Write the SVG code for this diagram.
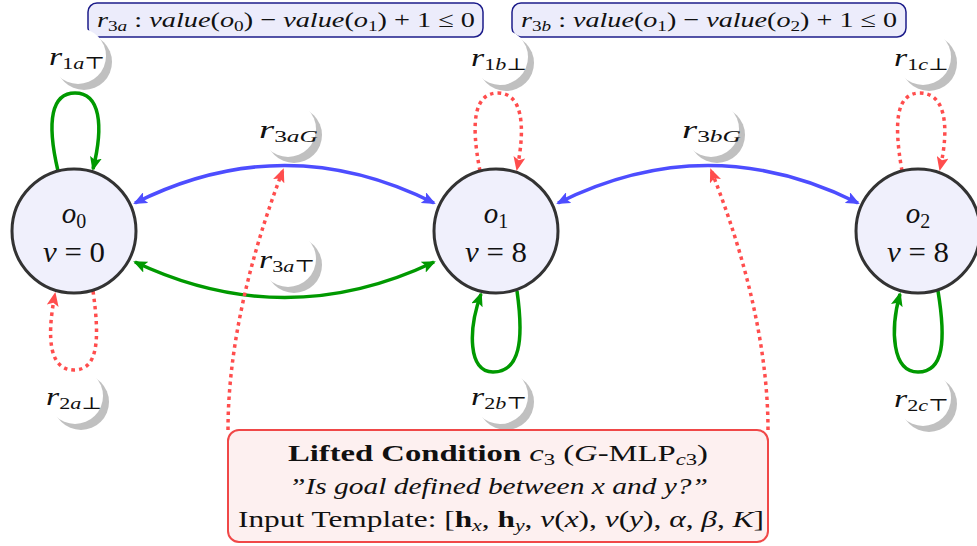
<svg xmlns="http://www.w3.org/2000/svg" width="977" height="546" viewBox="0 0 977 546">
<style>
text{font-family:"Liberation Serif","DejaVu Serif",serif;fill:#111}
.i{font-style:italic}
.b{font-weight:bold}
.node{fill:#f0f0fc;stroke:#333;stroke-width:3}
.hdr{fill:#ececfb;stroke:#1c1c8a;stroke-width:1.5}
.cond{fill:#fdf0f0;stroke:#f04848;stroke-width:2}
.sh{fill:#c0c0c0}
.wh{fill:#fff}
.e{fill:none;stroke-width:3.5}
.g{stroke:#009900}
.bl{stroke:#4d4dff}
.r{stroke:#ff4d4d;stroke-dasharray:3.5 4}
.lbl{font-size:26px}
</style>
<defs>
<marker id="ag" viewBox="0 0 14 12" refX="12" refY="6" markerWidth="14" markerHeight="12" markerUnits="userSpaceOnUse" orient="auto-start-reverse"><path d="M0,0 L14,6 L0,12 L3,6 z" fill="#009900"/></marker>
<marker id="ab" viewBox="0 0 14 12" refX="12" refY="6" markerWidth="14" markerHeight="12" markerUnits="userSpaceOnUse" orient="auto-start-reverse"><path d="M0,0 L14,6 L0,12 L3,6 z" fill="#4d4dff"/></marker>
<marker id="ar" viewBox="0 0 14 12" refX="12" refY="6" markerWidth="14" markerHeight="12" markerUnits="userSpaceOnUse" orient="auto-start-reverse"><path d="M0,0 L14,6 L0,12 L3,6 z" fill="#ff4d4d"/></marker>
</defs>

<g id="hdr-r3a">
<rect class="hdr" x="88" y="3" width="395" height="34" rx="9"/>
<text x="97" y="27" font-size="22" textLength="378" lengthAdjust="spacingAndGlyphs"><tspan class="i">r</tspan><tspan font-size="15" dy="4">3<tspan class="i">a</tspan></tspan><tspan dy="-4"> : </tspan><tspan class="i">value</tspan>(<tspan class="i">o</tspan><tspan font-size="15" dy="4">0</tspan><tspan dy="-4">) − </tspan><tspan class="i">value</tspan>(<tspan class="i">o</tspan><tspan font-size="15" dy="4">1</tspan><tspan dy="-4">) + 1 ≤ 0</tspan></text>
</g>
<g id="hdr-r3b">
<rect class="hdr" x="512" y="3" width="394" height="34" rx="9"/>
<text x="521" y="27" font-size="22" textLength="376" lengthAdjust="spacingAndGlyphs"><tspan class="i">r</tspan><tspan font-size="15" dy="4">3<tspan class="i">b</tspan></tspan><tspan dy="-4"> : </tspan><tspan class="i">value</tspan>(<tspan class="i">o</tspan><tspan font-size="15" dy="4">1</tspan><tspan dy="-4">) − </tspan><tspan class="i">value</tspan>(<tspan class="i">o</tspan><tspan font-size="15" dy="4">2</tspan><tspan dy="-4">) + 1 ≤ 0</tspan></text>
</g>

<g id="labels">
<g id="l-r1a"><circle class="sh" cx="84" cy="62" r="28"/><circle class="wh" cx="78" cy="56" r="28"/><text class="lbl" x="49" y="65" textLength="56" lengthAdjust="spacingAndGlyphs"><tspan class="i">r</tspan><tspan font-size="17" dy="4">1<tspan class="i">a</tspan>⊤</tspan></text></g>
<g id="l-r2a"><circle class="sh" cx="81" cy="402" r="28"/><circle class="wh" cx="75" cy="396" r="28"/><text class="lbl" x="46" y="405" textLength="56" lengthAdjust="spacingAndGlyphs"><tspan class="i">r</tspan><tspan font-size="17" dy="4">2<tspan class="i">a</tspan>⊥</tspan></text></g>
<g id="l-r1b"><circle class="sh" cx="506" cy="63" r="28"/><circle class="wh" cx="500" cy="57" r="28"/><text class="lbl" x="471" y="66" textLength="56" lengthAdjust="spacingAndGlyphs"><tspan class="i">r</tspan><tspan font-size="17" dy="4">1<tspan class="i">b</tspan>⊥</tspan></text></g>
<g id="l-r2b"><circle class="sh" cx="506" cy="402" r="28"/><circle class="wh" cx="500" cy="396" r="28"/><text class="lbl" x="471" y="405" textLength="56" lengthAdjust="spacingAndGlyphs"><tspan class="i">r</tspan><tspan font-size="17" dy="4">2<tspan class="i">b</tspan>⊤</tspan></text></g>
<g id="l-r1c"><circle class="sh" cx="929" cy="63" r="28"/><circle class="wh" cx="923" cy="57" r="28"/><text class="lbl" x="894" y="66" textLength="55" lengthAdjust="spacingAndGlyphs"><tspan class="i">r</tspan><tspan font-size="17" dy="4">1<tspan class="i">c</tspan>⊥</tspan></text></g>
<g id="l-r2c"><circle class="sh" cx="929" cy="404" r="28"/><circle class="wh" cx="923" cy="398" r="28"/><text class="lbl" x="894" y="407" textLength="55" lengthAdjust="spacingAndGlyphs"><tspan class="i">r</tspan><tspan font-size="17" dy="4">2<tspan class="i">c</tspan>⊤</tspan></text></g>
<g id="l-r3aG"><circle class="sh" cx="294" cy="135" r="28"/><circle class="wh" cx="288" cy="129" r="28"/><text class="lbl" x="259" y="138" textLength="59" lengthAdjust="spacingAndGlyphs"><tspan class="i">r</tspan><tspan font-size="17" dy="4">3<tspan class="i">aG</tspan></tspan></text></g>
<g id="l-r3aT"><circle class="sh" cx="294" cy="265" r="28"/><circle class="wh" cx="288" cy="259" r="28"/><text class="lbl" x="259" y="268" textLength="56" lengthAdjust="spacingAndGlyphs"><tspan class="i">r</tspan><tspan font-size="17" dy="4">3<tspan class="i">a</tspan>⊤</tspan></text></g>
<g id="l-r3bG"><circle class="sh" cx="717" cy="135" r="28"/><circle class="wh" cx="711" cy="129" r="28"/><text class="lbl" x="682" y="138" textLength="59" lengthAdjust="spacingAndGlyphs"><tspan class="i">r</tspan><tspan font-size="17" dy="4">3<tspan class="i">bG</tspan></tspan></text></g>
</g>

<g id="connectors">
<path class="e bl" d="M135,203 Q285,128 434,203" marker-start="url(#ab)" marker-end="url(#ab)"/>
<path class="e g" d="M135,262 Q285,333 434,262" marker-start="url(#ag)" marker-end="url(#ag)"/>
<path class="e bl" d="M558,203 Q708,128 858,203" marker-start="url(#ab)" marker-end="url(#ab)"/>
<path class="e g" d="M58,171 C46,120 52,93 75,93 C100,93 104,125 93,169" marker-end="url(#ag)"/>
<path class="e r" d="M93,291 C100,340 98,370 74,370 C50,370 46,340 55,294" marker-end="url(#ar)"/>
<path class="e r" d="M480,171 C470,120 475,93 498,93 C522,93 526,125 517,169" marker-end="url(#ar)"/>
<path class="e g" d="M517,291 C524,340 520,372 493,372 C468,372 468,330 481,294" marker-end="url(#ag)"/>
<path class="e r" d="M902,171 C893,120 897,93 920,93 C945,93 950,125 940,169" marker-end="url(#ar)"/>
<path class="e g" d="M938,291 C946,340 944,372 918,372 C892,372 890,330 900,294" marker-end="url(#ag)"/>
<path class="e r" d="M228,430 C228,330 260,230 283,170" marker-end="url(#ar)"/>
<path class="e r" d="M768,430 C768,330 735,230 711,170" marker-end="url(#ar)"/>
</g>

<g id="o0"><circle class="node" cx="74" cy="231" r="62"/><text x="74" y="223" text-anchor="middle" font-size="29"><tspan class="i">o</tspan><tspan font-size="20" dy="5">0</tspan></text><text x="74" y="262" text-anchor="middle" font-size="29" textLength="62" lengthAdjust="spacingAndGlyphs"><tspan class="i">v</tspan> = 0</text></g>
<g id="o1"><circle class="node" cx="496" cy="231" r="62"/><text x="496" y="223" text-anchor="middle" font-size="29"><tspan class="i">o</tspan><tspan font-size="20" dy="5">1</tspan></text><text x="496" y="262" text-anchor="middle" font-size="29" textLength="62" lengthAdjust="spacingAndGlyphs"><tspan class="i">v</tspan> = 8</text></g>
<g id="o2"><circle class="node" cx="918" cy="231" r="62"/><text x="918" y="223" text-anchor="middle" font-size="29"><tspan class="i">o</tspan><tspan font-size="20" dy="5">2</tspan></text><text x="918" y="262" text-anchor="middle" font-size="29" textLength="62" lengthAdjust="spacingAndGlyphs"><tspan class="i">v</tspan> = 8</text></g>

<g id="cond">
<rect class="cond" x="228" y="430" width="540" height="112" rx="11"/>
<text x="288" y="461" font-size="23" textLength="420" lengthAdjust="spacingAndGlyphs"><tspan class="b">Lifted Condition</tspan> <tspan class="i">c</tspan><tspan font-size="16" dy="4">3</tspan><tspan dy="-4"> (</tspan><tspan class="i">G</tspan>-MLP<tspan font-size="16" dy="4"><tspan class="i">c</tspan>3</tspan><tspan dy="-4">)</tspan></text>
<text x="289" y="494" font-size="23" class="i" textLength="419" lengthAdjust="spacingAndGlyphs">”Is goal defined between x and y?”</text>
<text x="238" y="527" font-size="23" textLength="526" lengthAdjust="spacingAndGlyphs">Input Template: [<tspan class="b">h</tspan><tspan font-size="16" dy="4" class="i">x</tspan><tspan dy="-4">, </tspan><tspan class="b">h</tspan><tspan font-size="16" dy="4" class="i">y</tspan><tspan dy="-4">, </tspan><tspan class="i">v</tspan>(<tspan class="i">x</tspan>), <tspan class="i">v</tspan>(<tspan class="i">y</tspan>), <tspan class="i">α</tspan>, <tspan class="i">β</tspan>, <tspan class="i">K</tspan>]</text>
</g>
</svg>
